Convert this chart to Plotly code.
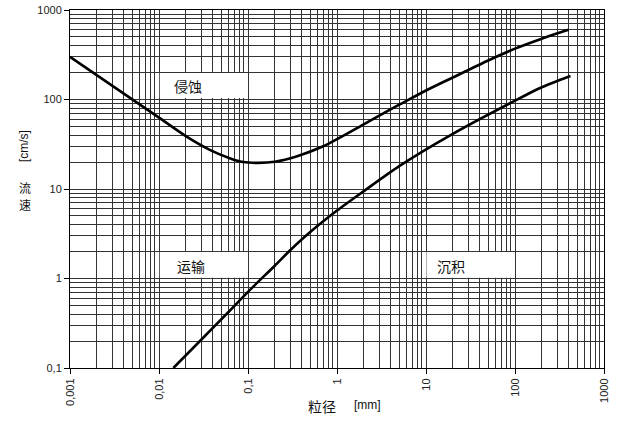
import math
import plotly.graph_objects as go

# --- data ---
erosion_d = [0.001, 0.003, 0.01, 0.02, 0.0372, 0.0622, 0.088, 0.13, 0.2,
             0.35, 0.7, 1.95, 3.9, 5.08, 10, 20, 50, 100, 200, 400]
erosion_v = [300, 142, 62.7, 39, 27.4, 22.1, 20, 19.6, 20.2,
             23.1, 30, 52, 76.5, 88, 126, 176, 273, 370, 478, 600]

settle_d = [0.0145, 0.03, 0.06, 0.1, 0.2, 0.3, 0.5, 1.0, 2.0, 5.0, 20, 100, 200, 420]
settle_v = [0.1, 0.208, 0.42, 0.71, 1.39, 2.08, 3.3, 5.74, 9.46, 18, 41.3, 97, 137, 183]

x_tickvals = [0.001, 0.01, 0.1, 1, 10, 100, 1000]
x_ticktext = ["0,001", "0,01", "0,1", "1", "10", "100", "1000"]
y_tickvals = [0.1, 1, 10, 100, 1000]
y_ticktext = ["0,1", "1", "10", "100", "1000"]

zone_labels = ["侵蚀", "运输", "沉积"]
zone_x = [(0.0102, 0.0995), (0.0102, 0.0995), (10.1, 99)]
zone_y = [(104, 198), (1.02, 1.98), (1.02, 1.98)]
zone_text_x = [0.0139, 0.015, 12.5]
zone_text_y = [142, 1.38, 1.38]

fig = go.Figure()
for xs, ys in ((erosion_d, erosion_v), (settle_d, settle_v)):
    fig.add_trace(go.Scatter(x=xs, y=ys, mode="lines",
                             line=dict(color="black", width=2.6, shape="spline", smoothing=0.7),
                             showlegend=False, hoverinfo="skip"))

grid = "#333333"
axis_common = dict(
    type="log", showline=True, linecolor="black", linewidth=1, mirror=True,
    ticks="outside", ticklen=5, tickcolor="black", tickwidth=1,
    showgrid=True, gridcolor=grid, gridwidth=1,
    minor=dict(dtick="D1", showgrid=True, gridcolor=grid, gridwidth=1, ticks=""),
    tickfont=dict(family="Liberation Sans, Arial", size=11, color="#222"),
    zeroline=False, automargin=False,
)
fig.update_xaxes(range=[-3, 3], tickvals=x_tickvals, ticktext=x_ticktext,
                 tickangle=-90, **axis_common)
fig.update_yaxes(range=[-1, 3], tickvals=y_tickvals, ticktext=y_ticktext, **axis_common)

cjk = "Noto Sans CJK SC"
for lab, (x0, x1), (y0, y1), tx, ty in zip(zone_labels, zone_x, zone_y, zone_text_x, zone_text_y):
    fig.add_shape(type="rect", xref="x", yref="y", x0=x0, x1=x1, y0=y0, y1=y1,
                  fillcolor="white", line=dict(width=0), layer="above")
    fig.add_annotation(x=math.log10(tx), y=math.log10(ty), xref="x", yref="y",
                       text=lab, showarrow=False, xanchor="left", yanchor="middle",
                       font=dict(family=cjk, size=14, color="#111"))

# axis titles
fig.add_annotation(x=0.472, y=-0.106, xref="paper", yref="paper", text="粒径",
                   showarrow=False, xanchor="center", yanchor="middle",
                   font=dict(family=cjk, size=14, color="#111"))
fig.add_annotation(x=0.557, y=-0.103, xref="paper", yref="paper", text="[mm]",
                   showarrow=False, xanchor="center", yanchor="middle",
                   font=dict(family="Liberation Sans, Arial", size=12, color="#111"))
fig.add_annotation(x=-0.086, y=0.62, xref="paper", yref="paper", text="[cm/s]", textangle=-90,
                   showarrow=False, xanchor="center", yanchor="middle",
                   font=dict(family="Liberation Sans, Arial", size=12, color="#111"))
fig.add_annotation(x=-0.084, y=0.503, xref="paper", yref="paper", text="流",
                   showarrow=False, xanchor="center", yanchor="middle",
                   font=dict(family=cjk, size=12, color="#111"))
fig.add_annotation(x=-0.084, y=0.458, xref="paper", yref="paper", text="速",
                   showarrow=False, xanchor="center", yanchor="middle",
                   font=dict(family=cjk, size=12, color="#111"))

fig.update_layout(width=626, height=426, margin=dict(l=70, r=22, t=10, b=58),
                  paper_bgcolor="white", plot_bgcolor="white")

fig.write_html("out.html", config={"displayModeBar": False},
               post_script="document.body.style.margin='0';")
